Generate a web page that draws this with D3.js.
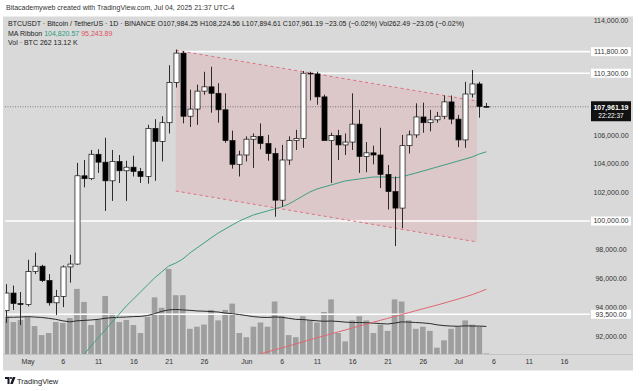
<!DOCTYPE html>
<html><head><meta charset="utf-8">
<script src="https://cdn.jsdelivr.net/npm/d3@7"></script>
<style>
body{margin:0;background:#fff;}
svg{display:block;font-family:"Liberation Sans",Arial,sans-serif;}
</style>
</head><body>
<svg id="c" width="640" height="391"></svg>
<script>
// ---------- data ----------
const dates = ["2025-04-28","2025-04-29","2025-04-30","2025-05-01","2025-05-02","2025-05-03","2025-05-04","2025-05-05","2025-05-06","2025-05-07",
"2025-05-08","2025-05-09","2025-05-10","2025-05-11","2025-05-12","2025-05-13","2025-05-14","2025-05-15","2025-05-16","2025-05-17",
"2025-05-18","2025-05-19","2025-05-20","2025-05-21","2025-05-22","2025-05-23","2025-05-24","2025-05-25","2025-05-26","2025-05-27",
"2025-05-28","2025-05-29","2025-05-30","2025-05-31","2025-06-01","2025-06-02","2025-06-03","2025-06-04","2025-06-05","2025-06-06",
"2025-06-07","2025-06-08","2025-06-09","2025-06-10","2025-06-11","2025-06-12","2025-06-13","2025-06-14","2025-06-15","2025-06-16",
"2025-06-17","2025-06-18","2025-06-19","2025-06-20","2025-06-21","2025-06-22","2025-06-23","2025-06-24","2025-06-25","2025-06-26",
"2025-06-27","2025-06-28","2025-06-29","2025-06-30","2025-07-01","2025-07-02","2025-07-03","2025-07-04","2025-07-05"];
const opens = [93750,94980,94250,94180,96480,96850,95850,94300,94750,96800,
97000,103150,102950,104650,104100,102800,104150,103500,103750,103450,
103100,106450,105550,106850,109650,111700,107300,107800,109050,109350,
108900,107750,105600,103950,104600,105700,105900,105400,104700,101450,
104250,105600,105750,110300,110250,108650,105600,105950,105300,105500,
106750,104500,104750,104600,103250,102050,100900,105250,106000,107250,
106850,107050,107300,108300,107100,105650,108850,109550,107984.25];
const highs = [95600,95500,95050,97300,97800,96950,96300,95200,96900,97650,
104050,104250,104950,105000,105800,104950,104600,104200,104550,103700,
106700,107100,107300,110850,111950,111850,109150,109500,110400,110750,
109600,108900,106300,104900,105900,106100,106800,106000,105100,105300,
105900,106350,110450,110400,110400,108800,106150,106350,106100,108900,
107750,105500,105250,106500,103900,103100,106000,106300,108200,108250,
107750,107600,108750,108750,107400,109700,110520,109700,108224.56];
const lows = [92900,93800,92750,94050,96300,95750,94100,93450,94000,95700,
96950,102350,102850,103350,100700,101400,102650,101400,103100,102650,
102600,102800,104150,106100,109300,106800,106550,106700,108800,107550,
106850,105450,103650,103100,104150,103700,105000,104200,100300,101000,
103900,104950,105100,108400,108100,105650,102650,104250,104600,104950,
103350,103400,103950,102300,100800,98250,99500,104700,105800,106150,
106250,106850,107100,106750,105150,105100,108600,107200,107894.61];
const closes = [94980,94250,94180,96480,96850,95850,94300,94750,96800,97000,
103150,102950,104650,104100,102800,104150,103500,103750,103450,103100,
106450,105550,106850,109650,111700,107300,107800,109050,109350,108900,
107750,105600,103950,104600,105700,105900,105400,104700,101450,104250,
105600,105750,110300,110250,108650,105600,105950,105300,105500,106750,
104500,104750,104600,103250,102050,100900,105250,106000,107250,106850,
107050,107300,108300,107100,105650,108850,109550,107984,107961.19];
// volume in thousands of BTC
const volumes = [17.6,15.2,16.2,17.6,13.3,9.0,10.0,15.2,14.8,17.1,
31.0,24.8,13.8,16.2,27.6,19.5,15.2,16.2,13.8,10.0,
17.6,27.0,22.0,40.5,28.0,28.0,12.0,13.0,14.0,21.0,
16.0,21.0,24.0,10.0,8.0,13.0,15.0,13.0,25.0,18.0,
9.0,8.0,18.0,16.0,15.0,20.0,26.0,10.0,6.0,16.0,
18.0,16.0,10.0,14.0,11.0,26.0,25.0,16.0,12.0,13.0,
11.0,3.0,6.5,12.0,13.0,16.0,14.0,13.0,0.262];
const volumeMA = [17.5,17.5,17.6,17.8,17.6,17.4,17.0,16.5,15.8,15.3,
15.8,16.0,16.2,16.5,17.0,17.3,17.5,17.6,17.8,17.9,
18.3,19.2,20.3,21.0,21.2,21.0,20.8,20.5,20.4,20.2,
20.0,19.5,19.2,18.8,18.3,17.8,17.5,17.4,17.6,17.5,
17.0,16.5,16.4,16.1,15.8,15.6,15.7,15.5,15.2,15.0,
15.0,14.9,14.7,14.5,14.3,14.7,15.3,15.2,15.0,14.8,
14.5,13.9,13.5,13.3,13.2,13.4,13.3,13.3,13.12];
// MA ribbon (green = fast, red = slow)
const maFast = [null,null,null,null,null,null,null,null,null,null,
90000,90700,91290,91850,92400,92960,93520,94080,94560,95050,
95540,96030,96450,96860,97070,97350,97770,98120,98470,98820,
99160,99440,99720,100000,100210,100420,100560,100700,100840,100980,
101180,101460,101740,102020,102230,102370,102510,102650,102790,102860,
102930,103000,103070,103070,103070,103000,103070,103210,103340,103480,
103620,103760,103900,104040,104180,104320,104460,104670,104820.57];
const maSlow = [null,null,null,null,null,null,null,null,null,null,
null,null,null,null,null,null,null,null,null,null,
null,null,null,null,null,null,null,null,null,null,
null,null,90200,90320,90450,90600,90740,90880,91020,91150,
91290,91430,91580,91720,91860,92000,92130,92270,92400,92540,
92680,92810,92950,93080,93210,93340,93480,93610,93750,93880,
94010,94140,94280,94420,94560,94710,94870,95050,95243.89];
// price scale ticks
const priceTicks = [92000,94000,96000,98000,100000,102000,104000,106000,108000,110000,112000,114000];
// time scale ticks
const timeTickDates = ["2025-05-01","2025-05-06","2025-05-11","2025-05-16","2025-05-21","2025-05-26","2025-06-01","2025-06-06","2025-06-11","2025-06-16","2025-06-21","2025-06-26","2025-07-01","2025-07-06","2025-07-11","2025-07-16"];
const timeTickLabels = ["May","6","11","16","21","26","Jun","6","11","16","21","26","Jul","6","11","16"];
// horizontal levels drawn on the chart
const levelPrices = [111800,110300,100000,93500];
const levelStarts = ["2025-05-22T12:00","2025-06-09",null,null];
// descending channel
const channelDates = ["2025-05-22","2025-07-03T16:00"];
const channelTop = [111900,108360];
const channelBottom = [102090,98540];
const lastPrice = 107961.19;
const countdown = "22:22:37";

// ---------- drawing ----------
const P = s => new Date(s + (s.length > 10 ? ":00Z" : "T00:00:00Z"));
const svg = d3.select("#c");
const plot = {l:5, r:590, t:17, b:354};

const x = d3.scaleUtc().domain([P("2025-05-01"), P("2025-07-16")]).range([27.5, 564]);
const y = d3.scaleLinear().domain([92000,114000]).range([335.8,20.1]);
const v = d3.scaleLinear().domain([0,40]).range([plot.b, 270]);
const dx = x(P("2025-05-02")) - x(P("2025-05-01"));

const bars = dates.map((d,i)=>({t:P(d),o:opens[i],h:highs[i],l:lows[i],c:closes[i],vol:volumes[i],vma:volumeMA[i],f:maFast[i],s:maSlow[i]}));

// header
svg.append("text").attr("x",6).attr("y",9.8).attr("font-size",7).attr("fill","#333")
  .text("Bitacademyweb created with TradingView.com, Jul 04, 2025 21:37 UTC-4");

// chart panel
svg.append("rect").attr("x",3).attr("y",16.5).attr("width",630).attr("height",354).attr("fill","#d9d9d9");
svg.append("line").attr("x1",3).attr("x2",633).attr("y1",plot.b+0.5).attr("y2",plot.b+0.5).attr("stroke","#c4c4c4");

const defs = svg.append("defs");
defs.append("clipPath").attr("id","clip").append("rect")
  .attr("x",plot.l).attr("y",plot.t).attr("width",plot.r-plot.l).attr("height",plot.b-plot.t);
const g = svg.append("g").attr("clip-path","url(#clip)");

// channel fill
const c0 = x(P(channelDates[0])), c1 = x(P(channelDates[1]));
g.append("path")
  .attr("d",`M${c0},${y(channelTop[0])}L${c1},${y(channelTop[1])}L${c1},${y(channelBottom[1])}L${c0},${y(channelBottom[0])}Z`)
  .attr("fill","rgba(240,80,90,0.13)");

// volume bars
g.selectAll(".vol").data(bars).join("rect")
  .attr("x",d=>x(d.t)-dx*0.4).attr("width",dx*0.8)
  .attr("y",d=>v(d.vol)).attr("height",d=>plot.b-v(d.vol))
  .attr("fill","#9e9e9e");

// horizontal levels
levelPrices.forEach((p,i)=>{
  const xs = levelStarts[i] ? x(P(levelStarts[i])) : plot.l;
  g.append("line").attr("x1",xs).attr("x2",plot.r).attr("y1",y(p)).attr("y2",y(p))
    .attr("stroke","#fff").attr("stroke-width",1.6);
});

// volume MA
g.append("path").datum(bars)
  .attr("d",d3.line().x(d=>x(d.t)).y(d=>v(d.vma)))
  .attr("fill","none").attr("stroke","#2a2a2a").attr("stroke-width",1);

// MA ribbon
g.append("path").datum(bars)
  .attr("d",d3.line().defined(d=>d.s!=null).x(d=>x(d.t)).y(d=>y(d.s)))
  .attr("fill","none").attr("stroke","#e06672").attr("stroke-width",1);
g.append("path").datum(bars)
  .attr("d",d3.line().defined(d=>d.f!=null).x(d=>x(d.t)).y(d=>y(d.f)))
  .attr("fill","none").attr("stroke","#3d9f85").attr("stroke-width",1);

// channel dashed edges
[channelTop,channelBottom].forEach(arr=>{
  g.append("line").attr("x1",c0).attr("y1",y(arr[0])).attr("x2",c1).attr("y2",y(arr[1]))
    .attr("stroke","#e0707e").attr("stroke-width",1).attr("stroke-dasharray","3,3");
});

// last price dotted line
g.append("line").attr("x1",plot.l).attr("x2",plot.r).attr("y1",y(lastPrice)).attr("y2",y(lastPrice))
  .attr("stroke","#666").attr("stroke-width",0.8).attr("stroke-dasharray","1,1.5");

// candles
const bw = dx*0.72;
const cg = g.append("g");
cg.selectAll(".wick").data(bars).join("line")
  .attr("x1",d=>Math.round(x(d.t))+0.5).attr("x2",d=>Math.round(x(d.t))+0.5)
  .attr("y1",d=>y(d.h)).attr("y2",d=>y(d.l))
  .attr("stroke","#2b2b2b").attr("stroke-width",1);
cg.selectAll(".body").data(bars).join("rect")
  .attr("x",d=>Math.round(x(d.t))+0.5-bw/2).attr("width",bw)
  .attr("y",d=>y(Math.max(d.o,d.c)))
  .attr("height",d=>Math.max(0.8,Math.abs(y(d.o)-y(d.c))))
  .attr("fill",d=>d.c>=d.o?"#ffffff":"#000000")
  .attr("stroke","#111").attr("stroke-width",0.7);

// price axis (ticks hidden behind a label box in the original are skipped)
const covered = levelPrices.concat([lastPrice]);
const shownTicks = priceTicks.filter(p=>covered.every(c=>Math.abs(y(p)-y(c))>6));
const yAxis = d3.axisRight(y).tickValues(shownTicks).tickSize(0).tickPadding(0).tickFormat(d3.format(",.2f"));
const ya = svg.append("g").attr("transform","translate(611,0)").call(yAxis);
ya.select(".domain").remove();
ya.selectAll("text").attr("x",0).attr("text-anchor","middle").attr("font-size",7)
  .attr("font-family","Liberation Sans, Arial, sans-serif").attr("fill","#333");

// level labels on price axis
levelPrices.forEach(p=>{
  svg.append("rect").attr("x",591).attr("y",y(p)-4.5).attr("width",40).attr("height",9).attr("fill","#fff");
  svg.append("text").attr("x",611).attr("y",y(p)).attr("dy","0.35em").attr("text-anchor","middle")
    .attr("font-size",7).attr("fill","#333").text(d3.format(",.2f")(p));
});
// last price label
svg.append("rect").attr("x",591).attr("y",y(lastPrice)-5.5).attr("width",40).attr("height",20).attr("fill","#111");
svg.append("text").attr("x",611).attr("y",y(lastPrice)+0.5).attr("dy","0.35em").attr("text-anchor","middle")
  .attr("font-size",7).attr("font-weight","bold").attr("fill","#fff").text(d3.format(",.2f")(lastPrice));
svg.append("text").attr("x",611).attr("y",y(lastPrice)+9).attr("dy","0.35em").attr("text-anchor","middle")
  .attr("font-size",6.5).attr("fill","#fff").text(countdown);

// time axis
const xAxis = d3.axisBottom(x).tickValues(timeTickDates.map(P)).tickSize(0).tickPadding(0)
  .tickFormat((d,i)=>timeTickLabels[i]);
const xa = svg.append("g").attr("transform",`translate(0,${plot.b+8})`).call(xAxis);
xa.select(".domain").remove();
xa.selectAll("text").attr("dy","0.35em").attr("font-size",7)
  .attr("font-family","Liberation Sans, Arial, sans-serif").attr("fill","#333");

// legend
const lg = svg.append("g").attr("font-size",7).attr("fill","#222");
lg.append("text").attr("x",8).attr("y",24).attr("dy","0.35em")
  .text("BTCUSDT · Bitcoin / TetherUS · 1D · BINANCE  O107,984.25 H108,224.56 L107,894.61 C107,961.19 −23.05 (−0.02%) Vol262.49 −23.05 (−0.02%)");
const l2 = lg.append("text").attr("x",8).attr("y",33.5).attr("dy","0.35em");
l2.append("tspan").text("MA Ribbon  ");
l2.append("tspan").attr("fill","#2a9d7f").text("104,820.57  ");
l2.append("tspan").attr("fill","#e0505f").text("95,243.89");
lg.append("text").attr("x",8).attr("y",43).attr("dy","0.35em").text("Vol · BTC  262  13.12 K");

// TradingView logo
const logo = svg.append("g").attr("transform","translate(5,377)").attr("fill","#131722");
logo.append("path").attr("d","M0,0H4.5V7H2.5V2H0Z");
logo.append("circle").attr("cx",6).attr("cy",1).attr("r",1.1);
logo.append("path").attr("d","M7.8,0H10.5L7.8,7H5.2Z");
svg.append("text").attr("x",17).attr("y",381).attr("dy","0.35em").attr("font-size",7.5).attr("fill","#222").text("TradingView");
</script>
</body></html>
